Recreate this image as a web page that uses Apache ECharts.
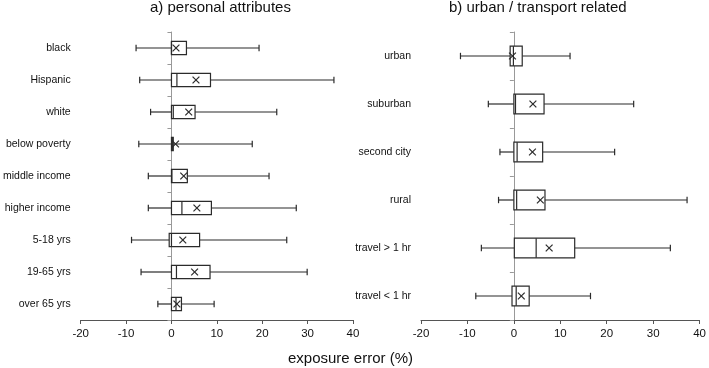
<!DOCTYPE html>
<html>
<head>
<meta charset="utf-8">
<script src="https://cdn.jsdelivr.net/npm/echarts@6/dist/echarts.min.js"></script>
<style>
html,body{margin:0;padding:0;background:#fff;}
#chart{width:709px;height:368px;}
</style>
</head>
<body>
<div id="chart"></div>
<script>
// ---- Data (exposure error %) ----
const leftCats = ['black','Hispanic','white','below poverty','middle income','higher income','5-18 yrs','19-65 yrs','over 65 yrs'];
const leftMin  = [-7.8, -7.0, -4.6, -7.2, -5.1, -5.1, -8.8, -6.7, -3.0];
const leftQ1   = [ 0.0,  0.0,  0.0,  0.0,  0.0,  0.0, -0.5,  0.0,  0.0];
const leftMed  = [ 0.0,  1.2,  0.4,  0.2,  0.1,  2.3,  0.0,  1.1,  1.0];
const leftQ3   = [ 3.3,  8.6,  5.2,  0.4,  3.5,  8.8,  6.2,  8.5,  2.2];
const leftMax  = [19.3, 35.8, 23.2, 17.8, 21.5, 27.5, 25.4, 29.9,  9.4];
const leftMean = [ 1.0,  5.4,  3.8,  0.9,  2.7,  5.6,  2.5,  5.1,  1.2];

const rightCats = ['urban','suburban','second city','rural','travel > 1 hr','travel < 1 hr'];
const rightMin  = [-11.5, -5.5, -3.0, -3.3, -7.0, -8.2];
const rightQ1   = [ -0.8,  0.0,  0.0,  0.0,  0.1, -0.4];
const rightMed  = [ -0.1,  0.35, 0.7,  0.6,  4.8,  0.5];
const rightQ3   = [  1.8,  6.5,  6.2,  6.7, 13.1,  3.3];
const rightMax  = [ 12.1, 25.8, 21.7, 37.3, 33.7, 16.5];
const rightMean = [ -0.3,  4.1,  4.0,  5.7,  7.6,  1.6];

const xTicks = [-20, -10, 0, 10, 20, 30, 40];

const titleLeft = 'a) personal attributes';
const titleRight = 'b) urban / transport related';
const xTitle = 'exposure error (%)';

// ---- build ----
function rows(min,q1,med,q3,max,mean){
  return min.map((v,i)=>[i, v, q1[i], med[i], q3[i], max[i], mean[i]]);
}
const INK = '#2b2b2b';
const FONT = 'Liberation Sans, Arial, sans-serif';

function renderItem(params, api){
  const c = api.value(0);
  const pMin = api.coord([api.value(1), c]);
  const pQ1 = api.coord([api.value(2), c]);
  const pMed = api.coord([api.value(3), c]);
  const pQ3 = api.coord([api.value(4), c]);
  const pMax = api.coord([api.value(5), c]);
  const pMean = api.coord([api.value(6), c]);
  const band = api.size([0, 1])[1];
  const bh = band * 0.41;
  const y = pMin[1];
  const cap = 3.2, xs = 3.4;
  const st = {stroke: INK, lineWidth: 1.2, fill: null};
  const line = (x1,y1,x2,y2)=>({type:'line', shape:{x1,y1,x2,y2}, style: st});
  return {type:'group', children:[
    line(pMin[0], y, pQ1[0], y),
    line(pQ3[0], y, pMax[0], y),
    line(pMin[0], y-cap, pMin[0], y+cap),
    line(pMax[0], y-cap, pMax[0], y+cap),
    {type:'rect', shape:{x:pQ1[0], y:y-bh/2, width:Math.max(pQ3[0]-pQ1[0],1), height:bh}, style:{stroke:INK, lineWidth:1.2, fill:'#fff'}},
    line(pMed[0], y-bh/2, pMed[0], y+bh/2),
    line(pMean[0]-xs, y-xs, pMean[0]+xs, y+xs),
    line(pMean[0]-xs, y+xs, pMean[0]+xs, y-xs)
  ]};
}

function xAxisDef(gi){
  return {
    type:'value', gridIndex: gi, min: xTicks[0], max: xTicks[xTicks.length-1], interval: 10,
    axisLine:{show:true, lineStyle:{color:'#555', width:1}},
    axisTick:{show:true, length:4, lineStyle:{color:'#555'}},
    axisLabel:{color:'#111', fontSize:11.5, fontFamily:FONT, margin:8},
    splitLine:{show:false}
  };
}
function yAxisDef(gi, cats){
  return {
    type:'category', gridIndex: gi, data: cats, inverse: true,
    axisLine:{show:true, lineStyle:{color:'#999', width:1}},
    axisTick:{show:true, length:4, inside:false, lineStyle:{color:'#999'}},
    axisLabel:{color:'#111', fontSize:10.5, fontFamily:FONT, margin:10},
    splitLine:{show:false}
  };
}

const chart = echarts.init(document.getElementById('chart'), null, {renderer:'canvas'});
chart.setOption({
  animation:false,
  backgroundColor:'#fff',
  grid:[
    {left:78, right:356, top:32, bottom:48},
    {left:421, right:6, top:32, bottom:48}
  ],
  xAxis:[xAxisDef(0), xAxisDef(1)],
  yAxis:[yAxisDef(0, leftCats), yAxisDef(1, rightCats)],
  series:[
    {type:'custom', xAxisIndex:0, yAxisIndex:0, renderItem, encode:{x:[1,2,3,4,5,6], y:0},
     data: rows(leftMin,leftQ1,leftMed,leftQ3,leftMax,leftMean)},
    {type:'custom', xAxisIndex:1, yAxisIndex:1, renderItem, encode:{x:[1,2,3,4,5,6], y:0},
     data: rows(rightMin,rightQ1,rightMed,rightQ3,rightMax,rightMean)}
  ],
  graphic:[
    {type:'text', left:150, top:0, style:{text:titleLeft, font:'15px '+FONT, fill:'#111'}},
    {type:'text', left:449, top:0, style:{text:titleRight, font:'15px '+FONT, fill:'#111'}},
    {type:'text', left:288, top:351, style:{text:xTitle, font:'15px '+FONT, fill:'#111'}}
  ]
});
</script>
</body>
</html>
